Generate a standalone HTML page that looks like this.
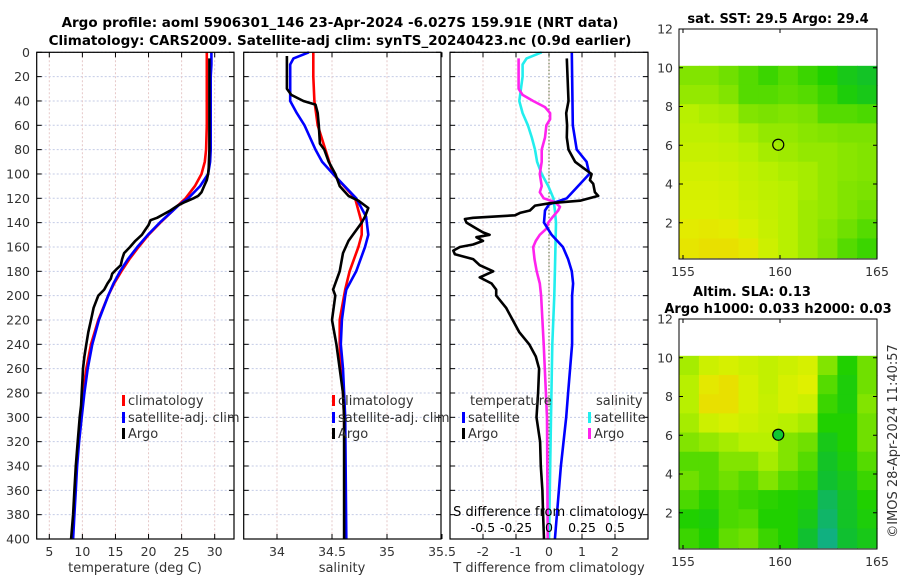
<!DOCTYPE html>
<html><head><meta charset="utf-8"><style>
html,body{margin:0;padding:0;background:#fff;}
svg{display:block;font-family:"DejaVu Sans","Liberation Sans",sans-serif;}
</style></head><body>
<svg id="fig" width="900" height="580" viewBox="0 0 900 580" xmlns="http://www.w3.org/2000/svg">
<text x="340" y="27" text-anchor="middle" font-size="13.5" font-weight="bold">Argo profile: aoml 5906301_146 23-Apr-2024 -6.027S 159.91E (NRT data)</text>
<text x="340" y="45" text-anchor="middle" font-size="13.5" font-weight="bold">Climatology: CARS2009. Satellite-adj clim: synTS_20240423.nc (0.9d earlier)</text>
<text x="778" y="23" text-anchor="middle" font-size="13" font-weight="bold">sat. SST: 29.5 Argo: 29.4</text>
<text x="752" y="296" text-anchor="middle" font-size="13" font-weight="bold">Altim. SLA: 0.13</text>
<text x="778" y="313" text-anchor="middle" font-size="13" font-weight="bold">Argo h1000: 0.033 h2000: 0.03</text>
<text transform="translate(897,441) rotate(-90)" text-anchor="middle" font-size="13" fill="#333">©IMOS 28-Apr-2024 11:40:57</text>
<g id="g"></g>
</svg>
<script>
// ---- data ----
const climDepth=[0,10,20,40,60,80,90,100,110,120,125,130,140,150,160,170,180,190,200,220,240,260,280,300,320,340,360,380,400];
const climT=[28.8,28.8,28.8,28.8,28.8,28.7,28.5,28.0,27.0,25.6,24.6,23.7,21.8,20.0,18.5,17.1,15.9,14.8,13.9,12.4,11.3,10.6,10.1,9.7,9.4,9.1,8.9,8.7,8.5];
const satT=[29.5,29.5,29.4,29.4,29.4,29.4,29.3,29.0,27.8,26.0,24.7,23.7,21.7,19.9,18.3,16.9,15.7,14.7,13.9,12.5,11.5,10.8,10.3,9.9,9.5,9.2,9.0,8.8,8.6];
const argoDepth=[5,20,40,60,80,95,100,105,110,115,118,120,123,126,130,133,136,138,142,146,150,155,160,165,170,175,178,182,186,190,195,200,210,220,230,240,250,260,270,280,290,300,320,340,360,380,400];
const argoT=[29.2,29.2,29.2,29.2,29.2,29.1,29.0,28.8,28.4,28.0,27.5,26.8,25.5,24.4,23.3,22.3,21.3,20.3,20.0,19.5,19.0,18.0,17.2,16.3,16.0,15.8,15.2,14.5,14.3,13.8,13.3,12.4,11.7,11.3,10.9,10.6,10.3,10.1,10.0,9.9,9.8,9.6,9.3,9.0,8.8,8.6,8.3];
const climSDepth=[0,20,40,60,80,100,120,130,140,150,160,180,195,200,220,240,260,280,300,400];
const climS=[34.33,34.33,34.34,34.37,34.44,34.51,34.71,34.74,34.77,34.77,34.74,34.66,34.62,34.61,34.57,34.57,34.58,34.60,34.61,34.62];
const satSDepth=[0,5,10,40,50,60,80,90,100,120,135,150,160,180,195,200,220,240,260,300,400];
const satS=[34.29,34.15,34.12,34.12,34.18,34.25,34.35,34.41,34.51,34.72,34.81,34.83,34.80,34.72,34.63,34.62,34.59,34.58,34.60,34.62,34.63];
const argoSDepth=[3,30,35,40,43,50,60,75,80,90,100,110,118,122,128,135,140,150,155,165,180,195,200,220,240,260,280,300,400];
const argoS=[34.09,34.09,34.13,34.24,34.35,34.37,34.38,34.39,34.43,34.47,34.53,34.57,34.65,34.74,34.83,34.80,34.77,34.69,34.65,34.60,34.57,34.51,34.53,34.50,34.54,34.57,34.60,34.61,34.61];
const dTsatDepth=[0,60,80,90,100,120,125,130,140,150,160,170,180,190,200,240,280,300,340,400];
const dTsat=[0.69,0.72,0.84,1.14,1.22,0.54,0.0,-0.12,-0.15,0.08,0.42,0.58,0.69,0.73,0.70,0.70,0.58,0.52,0.36,0.18];
const dTargoDepth=[5,40,50,60,70,80,85,90,95,100,105,108,115,118,122,124,126,130,132,134,136,137,140,145,148,150,152,155,158,160,163,166,170,175,180,185,190,195,200,210,220,230,240,250,260,280,300,320,340,360,380,400];
const dTargo=[0.54,0.59,0.52,0.55,0.54,0.59,0.69,0.79,1.04,1.29,1.24,1.34,1.39,1.49,0.94,0.03,-0.42,-0.58,-0.88,-1.03,-2.3,-2.55,-2.5,-2.19,-2.0,-1.8,-2.2,-2.0,-2.3,-2.7,-2.9,-2.85,-2.3,-2.1,-1.69,-2.1,-1.74,-1.6,-1.6,-1.3,-1.1,-0.9,-0.6,-0.4,-0.3,-0.33,-0.38,-0.27,-0.25,-0.2,-0.18,-0.15];
const dSsatDepth=[0,5,10,20,40,50,60,70,80,90,100,110,120,130,140,180,200,240,300,400];
const dSsat=[-0.055,-0.17,-0.2,-0.2,-0.225,-0.2,-0.16,-0.13,-0.106,-0.09,-0.055,-0.005,0.033,0.045,0.053,0.045,0.04,0.025,0.015,0.0];
const dSargoDepth=[5,30,35,40,45,50,55,60,70,80,90,100,110,115,120,123,127,130,135,140,145,150,155,160,170,180,190,200,240,300,400];
const dSargo=[-0.23,-0.23,-0.2,-0.12,-0.03,0.008,0.008,-0.02,-0.03,-0.055,-0.055,-0.07,-0.055,-0.07,-0.04,0.045,0.083,0.07,0.03,-0.005,-0.02,-0.07,-0.1,-0.12,-0.11,-0.093,-0.07,-0.06,-0.04,-0.015,-0.01];
const depthTicks=[0,20,40,60,80,100,120,140,160,180,200,220,240,260,280,300,320,340,360,380,400];
const tTicks=[5,10,15,20,25,30];
const sTicks=[34,34.5,35,35.5];
const dTTicks=[-2,-1,0,1,2];
const dSTicks=[-0.5,-0.25,0,0.25,0.5];
const lonTicks=[155,160,165];
const latTicks=[2,4,6,8,10,12];
const sstGrid=[
[.6,.6,.65,.7,.75,.7,.75,.8,.85,.88],
[.55,.55,.6,.7,.7,.68,.7,.75,.82,.85],
[.45,.48,.5,.6,.62,.6,.62,.7,.7,.72],
[.42,.42,.45,.5,.55,.55,.58,.6,.62,.62],
[.38,.38,.4,.45,.5,.52,.55,.55,.58,.6],
[.33,.33,.35,.4,.45,.48,.5,.55,.58,.6],
[.3,.3,.32,.38,.42,.45,.5,.55,.6,.62],
[.28,.28,.3,.35,.4,.45,.52,.55,.6,.65],
[.22,.2,.22,.3,.38,.45,.52,.58,.65,.7],
[.18,.15,.15,.2,.35,.45,.52,.6,.7,.75]];
const slaGrid=[
[.5,.35,.3,.35,.4,.35,.3,.6,.8,.65],
[.45,.2,.15,.3,.4,.3,.25,.7,.82,.65],
[.45,.15,.15,.3,.38,.3,.35,.75,.82,.6],
[.5,.35,.3,.35,.4,.45,.5,.8,.8,.65],
[.6,.55,.5,.45,.45,.6,.65,.85,.8,.65],
[.7,.7,.6,.6,.5,.6,.7,.88,.82,.7],
[.65,.7,.65,.7,.6,.7,.75,.9,.85,.75],
[.72,.78,.72,.75,.78,.8,.82,.95,.88,.8],
[.8,.82,.72,.7,.8,.8,.85,.97,.88,.82],
[.75,.8,.68,.65,.75,.8,.9,1.0,.9,.85]];
const argoLon=[159.91];
const argoLat=[6.027];

// ---- helpers ----
const NS='http://www.w3.org/2000/svg';
const G=document.getElementById('g');
function mk(tag,attrs,parent){const e=document.createElementNS(NS,tag);for(const k in attrs)e.setAttribute(k,attrs[k]);(parent||G).appendChild(e);return e;}
const PT=52.3,PB=539;
const yD=d=>PT+(d/400)*(PB-PT);
const xT=t=>49.3+(t-5)*6.616;
const xS=s=>277+(s-34)*110;
const xDT=v=>549+v*33;
const xDS=v=>549+v*132;
const panels=[{x0:36.7,x1:234,ticks:tTicks,f:xT,name:'temperature'},{x0:243.7,x1:441,ticks:sTicks,f:xS,name:'salinity'},{x0:450,x1:648,ticks:dTTicks,f:xDT,name:'difference'}];

panels.forEach((p,i)=>{
  const grp=mk('g',{});
  
  
  depthTicks.forEach(d=>{
    const l=mk('line',{x1:p.x0,x2:p.x1,y1:yD(d),y2:yD(d),stroke:'#c4cbe6','stroke-width':1,'stroke-dasharray':'2,2'},grp);
    
    
    mk('line',{x1:p.x0,x2:p.x0+5,y1:yD(d),y2:yD(d),stroke:'#000'},grp);
    mk('line',{x1:p.x1-5,x2:p.x1,y1:yD(d),y2:yD(d),stroke:'#000'},grp);
  });
  p.ticks.forEach(t=>{
    const x=p.f(t);
    if(x>p.x0+1&&x<p.x1-1){
      const l=mk('line',{x1:x,x2:x,y1:PT,y2:PB,stroke:'#e6c8c8','stroke-width':1,'stroke-dasharray':'2,2'},grp);
      
      
    }
    mk('line',{x1:x,x2:x,y1:PB,y2:PB-5,stroke:'#000'},grp);
    mk('line',{x1:x,x2:x,y1:PT,y2:PT+5,stroke:'#000'},grp);
    const tx=mk('text',{x:x,y:556,'text-anchor':'middle','font-size':12.5,fill:'#333'},grp);
    tx.textContent=String(t);
    
    
  });
});
depthTicks.forEach(d=>{
  const t=mk('text',{x:30,y:yD(d)+4.5,'text-anchor':'end','font-size':12.5,fill:'#333'});
  t.textContent=String(d);
  
  
});
// zero line in diff panel
const zl=mk('line',{x1:xDT(0),x2:xDT(0),y1:PT,y2:PB,stroke:'#556633','stroke-width':1,'stroke-dasharray':'1.5,2'});



function line(depths,vals,f,color,name,w){
  const pts=depths.map((d,i)=>f(vals[i]).toFixed(1)+','+yD(d).toFixed(1)).join(' ');
  const e=mk('polyline',{points:pts,fill:'none',stroke:color,'stroke-width':w||2.6,'stroke-linejoin':'round'});
  
  
}
line(climDepth,climT,xT,'#f00','climatology-temperature-line');
line(climDepth,satT,xT,'#00f','satellite-temperature-line');
line(argoDepth,argoT,xT,'#000','argo-temperature-line');
line(climSDepth,climS,xS,'#f00','climatology-salinity-line');
line(satSDepth,satS,xS,'#00f','satellite-salinity-line');
line(argoSDepth,argoS,xS,'#000','argo-salinity-line');
line(dSsatDepth,dSsat,xDS,'#22eeee','satellite-s-diff-line');
line(dSargoDepth,dSargo,xDS,'#ff22ee','argo-s-diff-line');
line(dTsatDepth,dTsat,xDT,'#00f','satellite-t-diff-line');
line(dTargoDepth,dTargo,xDT,'#000','argo-t-diff-line');

// panel frames
panels.forEach(p=>{
  const r=mk('rect',{x:p.x0,y:PT,width:p.x1-p.x0,height:PB-PT,fill:'none',stroke:'#000','stroke-width':1.2});
  
  
});
// S diff axis labels
dSTicks.forEach(t=>{
  const tx=mk('text',{x:xDS(t),y:532,'text-anchor':'middle','font-size':12.5,fill:'#000'});
  tx.textContent=String(t);
  
  
});
function txt(x,y,s,name,anchor,size,fill){const t=mk('text',{x:x,y:y,'text-anchor':anchor||'start','font-size':size||13,fill:fill||'#333'});t.textContent=s;return t;}
txt(549,516,'S difference from climatology','s-diff-axis-title','middle',13,'#000');
txt(135,572,'temperature (deg C)','temperature-axis-title','middle',13);
txt(342,572,'salinity','salinity-axis-title','middle',13);
txt(549,572,'T difference from climatology','t-diff-axis-title','middle',13);

// legends
function leg(x,y,color,label,name){
  const m=mk('rect',{x:x,y:y-10,width:3,height:11,fill:color});
  
  
  txt(x+6,y,label,name+'-label','start',13);
}
leg(122,405,'#f00','climatology','legend-climatology');
leg(122,422,'#00f','satellite-adj. clim','legend-satellite-adj');
leg(122,438,'#000','Argo','legend-argo');
leg(332,405,'#f00','climatology','legend-s-climatology');
leg(332,422,'#00f','satellite-adj. clim','legend-s-satellite-adj');
leg(332,438,'#000','Argo','legend-s-argo');
txt(470,405,'temperature','legend-temperature-header','start',13);
leg(462,422,'#00f','satellite','legend-t-satellite');
leg(462,438,'#000','Argo','legend-t-argo');
txt(596,405,'salinity','legend-salinity-header','start',13);
leg(588,422,'#22eeee','satellite','legend-s-satellite');
leg(588,438,'#ff22ee','Argo','legend-s-argo-diff');

// ---- maps ----
const stops=[[0,[245,200,0]],[0.25,[224,240,0]],[0.45,[184,240,0]],[0.65,[112,224,0]],[0.8,[32,208,0]],[0.9,[16,192,48]],[1,[16,176,128]]];
function cmap(v){for(let i=1;i<stops.length;i++){if(v<=stops[i][0]){const a=stops[i-1],b=stops[i];const t=(v-a[0])/(b[0]-a[0]);const c=a[1].map((x,k)=>Math.round(x+(b[1][k]-x)*t));return 'rgb('+c.join(',')+')';}}return 'rgb(16,176,128)';}
function map(top,bot,grid,name,fillCircle){
  const x0=679,x1=877;
  const lonX=l=>683+(l-155)*19.4;
  const latY=l=>bot+2.6+(0-l)*((bot-top)/ (12-0.13))*1 ;
  const sc=(bot-top)/11.87;
  const ly=l=>bot-(l-0.13)*sc;
  const grp=mk('g',{});
  
  
  const rows=grid.length,cols=grid[0].length;
  const lonMin=154.8,lonMax=165,latMin=0.2,latMax=10.1;
  for(let r=0;r<rows;r++)for(let c=0;c<cols;c++){
    const la0=latMax-(latMax-latMin)*r/rows, la1=latMax-(latMax-latMin)*(r+1)/rows;
    const lo0=lonMin+(lonMax-lonMin)*c/cols, lo1=lonMin+(lonMax-lonMin)*(c+1)/cols;
    const xa=Math.max(x0,lonX(lo0)),xb=Math.min(x1,lonX(lo1));
    const cell=mk('rect',{x:xa,y:ly(la0),width:xb-xa+0.6,height:ly(la1)-ly(la0)+0.6,fill:cmap(grid[r][c])},grp);
    
    
  }
  const ci=mk('circle',{cx:lonX(argoLon[0]),cy:ly(argoLat[0]),r:5.5,fill:fillCircle?'#10c830':'none',stroke:'#000','stroke-width':1.2},grp);
  
  
  const fr=mk('rect',{x:x0,y:top,width:x1-x0,height:bot-top,fill:'none',stroke:'#000','stroke-width':1},grp);
  
  
  latTicks.forEach(l=>{
    const y=ly(l);
    mk('line',{x1:x0,x2:x0+4,y1:y,y2:y,stroke:'#000'},grp);
    mk('line',{x1:x1-4,x2:x1,y1:y,y2:y,stroke:'#000'},grp);
    const t=mk('text',{x:673,y:y+4.5,'text-anchor':'end','font-size':12.5,fill:'#333'},grp);
    t.textContent=String(l);
    
    
  });
  lonTicks.forEach(l=>{
    const x=lonX(l);
    mk('line',{x1:x,x2:x,y1:bot,y2:bot-4,stroke:'#000'},grp);
    mk('line',{x1:x,x2:x,y1:top,y2:top+4,stroke:'#000'},grp);
    const t=mk('text',{x:x,y:bot+17,'text-anchor':'middle','font-size':12.5,fill:'#333'},grp);
    t.textContent=String(l);
    
    
  });
}
map(29,259,sstGrid,'sst-map',false);
map(319,549,slaGrid,'sla-map',true);
</script>
</body></html>
